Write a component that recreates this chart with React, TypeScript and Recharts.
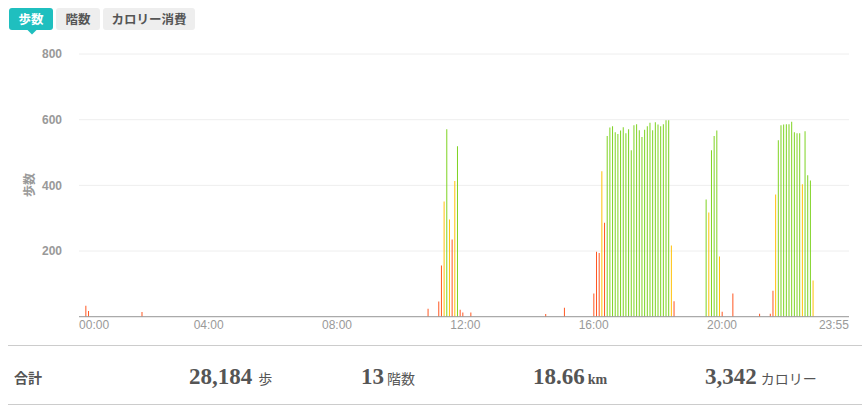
import { BarChart, Bar, XAxis, YAxis, CartesianGrid, Cell } from "recharts";

// 5-minute slots for one day
const hours = Array.from({ length: 24 }, (_, h) => String(h).padStart(2, "0"));
const minutes = Array.from({ length: 12 }, (_, m) => String(m * 5).padStart(2, "0"));
const slotTimes = hours.flatMap((h) => minutes.map((m) => `${h}:${m}`));

const tickLabels = ["00:00", "04:00", "08:00", "12:00", "16:00", "20:00", "23:55"];
const yTicks = [200, 400, 600, 800];

// slots with activity (others are 0)
const activeTimes = [
  "00:10", "00:15", "01:55",
  "10:50", "11:10", "11:15", "11:20", "11:25", "11:30", "11:35", "11:40", "11:45", "11:50", "11:55", "12:10",
  "14:30", "15:05",
  "16:00", "16:05", "16:10", "16:15", "16:20", "16:25", "16:30", "16:35", "16:40", "16:45", "16:50", "16:55",
  "17:00", "17:05", "17:10", "17:15", "17:20", "17:25", "17:30", "17:35", "17:40", "17:45", "17:50", "17:55",
  "18:00", "18:05", "18:10", "18:15", "18:20", "18:25", "18:30",
  "19:30", "19:35", "19:40", "19:45", "19:50", "19:55", "20:00", "20:20",
  "21:10", "21:30", "21:35", "21:40", "21:45", "21:50", "21:55",
  "22:00", "22:05", "22:10", "22:15", "22:20", "22:25", "22:30", "22:35", "22:40", "22:45", "22:50",
];
const activeSteps = [
  33, 17, 14,
  24, 46, 156, 351, 571, 296, 235, 413, 519, 21, 13, 13,
  8, 27,
  71, 198, 194, 443, 286, 550, 576, 580, 562, 556, 567, 577,
  559, 571, 507, 583, 586, 568, 547, 569, 580, 591, 568, 592,
  585, 580, 586, 598, 598, 217, 47,
  357, 317, 507, 550, 567, 183, 15, 71,
  9, 9, 79, 372, 537, 583, 585,
  586, 586, 594, 562, 559, 559, 403, 565, 431, 415, 110,
];
// intensity: l = low (red), m = moderate (yellow), h = high (green)
const activeLevels = [
  "l", "l", "l",
  "l", "l", "l", "m", "h", "m", "l", "m", "h", "l", "l", "l",
  "l", "l",
  "l", "l", "l", "m", "l", "h", "h", "h", "h", "h", "h", "h",
  "h", "h", "h", "h", "h", "h", "h", "h", "h", "h", "h", "h",
  "h", "h", "h", "h", "h", "m", "l",
  "h", "m", "h", "h", "h", "m", "l", "l",
  "l", "l", "l", "m", "h", "h", "h",
  "h", "h", "h", "h", "h", "h", "m", "h", "h", "h", "m",
];

const levelColors: Record<string, string> = { l: "#ff5722", m: "#ffc107", h: "#7ed321" };

const data = slotTimes.map((t) => {
  const i = activeTimes.indexOf(t);
  return { time: t, steps: i >= 0 ? activeSteps[i] : 0, level: i >= 0 ? activeLevels[i] : "l" };
});

const sans = "'Liberation Sans', Arial, sans-serif";
const cjk = "'Noto Sans CJK JP', sans-serif";
const serif = "'Liberation Serif', 'Noto Sans CJK JP', serif";

function TimeTick(props: any) {
  const { x, y, payload } = props;
  const v = payload.value;
  if (!tickLabels.includes(v)) return <g />;
  let anchor = "middle";
  let tx = x;
  if (v === "00:00") { anchor = "start"; tx = x - 1.3; }
  if (v === "23:55") { anchor = "end"; tx = x + 1.3; }
  return (
    <text x={tx} y={y + 12.5} textAnchor={anchor} fill="#999" fontSize={12} fontFamily={sans}>
      {v}
    </text>
  );
}

export default function App() {
  return (
    <div style={{ position: "absolute", left: 0, top: 0, width: 862, height: 409, background: "#fff" }}>
      <div style={{ position: "absolute", left: 0, top: 0 }}>
        <BarChart width={862} height={340} data={data} margin={{ top: 54, right: 13, left: 0, bottom: 0 }}>
          <CartesianGrid vertical={false} stroke="#eeeeee" />
          <XAxis
            dataKey="time"
            interval={0}
            tick={<TimeTick />}
            tickLine={false}
            tickSize={0}
            tickMargin={0}
            height={23.3}
            axisLine={{ stroke: "#999" }}
          />
          <YAxis
            width={79}
            domain={[0, 800]}
            ticks={yTicks}
            axisLine={false}
            tickLine={false}
            tickSize={6}
            tickMargin={11}
            tick={{ fill: "#999", fontSize: 12, fontWeight: "bold", fontFamily: sans }}
          />
          <Bar dataKey="steps" barSize={1} isAnimationActive={false}>
            {data.map((d, i) => (
              <Cell key={i} fill={levelColors[d.level]} />
            ))}
          </Bar>
        </BarChart>
      </div>

      <svg width={862} height={409} style={{ position: "absolute", left: 0, top: 0, pointerEvents: "none" }}>
        {/* tabs */}
        <rect x={9} y={8} width={44} height={22} rx={3} fill="#1fbfbf" />
        <path d="M27.5 30 L32 34.5 L36.5 30 Z" fill="#1fbfbf" />
        <text x={31} y={23.5} textAnchor="middle" fill="#fff" fontSize={12.5} fontWeight="bold" fontFamily={cjk}>歩数</text>
        <rect x={56} y={8} width={44} height={22} rx={3} fill="#eeeeee" />
        <text x={78} y={23.5} textAnchor="middle" fill="#555" fontSize={12.5} fontWeight="bold" fontFamily={cjk}>階数</text>
        <rect x={103} y={8} width={92} height={22} rx={3} fill="#eeeeee" />
        <text x={149} y={23.5} textAnchor="middle" fill="#555" fontSize={12.5} fontWeight="bold" fontFamily={cjk}>カロリー消費</text>

        {/* y axis title */}
        <text x={28} y={185} textAnchor="middle" dominantBaseline="central" transform="rotate(-90 28 185)" fill="#999" fontSize={12} fontWeight="bold" fontFamily={cjk}>歩数</text>

        {/* summary */}
        <line x1={8} x2={862} y1={345.5} y2={345.5} stroke="#cccccc" />
        <line x1={8} x2={862} y1={404.5} y2={404.5} stroke="#cccccc" />
        <text x={14} y={383} fill="#555" fontSize={14} fontWeight="bold" fontFamily={cjk}>合計</text>
        <text x={189} y={384} fill="#555" fontFamily={serif}>
          <tspan fontSize={23} fontWeight="bold">28,184</tspan>
          <tspan dx={6} fontSize={14}>歩</tspan>
        </text>
        <text x={361} y={384} fill="#555" fontFamily={serif}>
          <tspan fontSize={23} fontWeight="bold">13</tspan>
          <tspan dx={3} fontSize={14}>階数</tspan>
        </text>
        <text x={533} y={384} fill="#555" fontFamily={serif}>
          <tspan fontSize={23} fontWeight="bold">18.66</tspan>
          <tspan dx={3} fontSize={14} fontWeight="bold">km</tspan>
        </text>
        <text x={705} y={384} fill="#555" fontFamily={serif}>
          <tspan fontSize={23} fontWeight="bold">3,342</tspan>
          <tspan dx={4} fontSize={14}>カロリー</tspan>
        </text>
      </svg>
    </div>
  );
}
